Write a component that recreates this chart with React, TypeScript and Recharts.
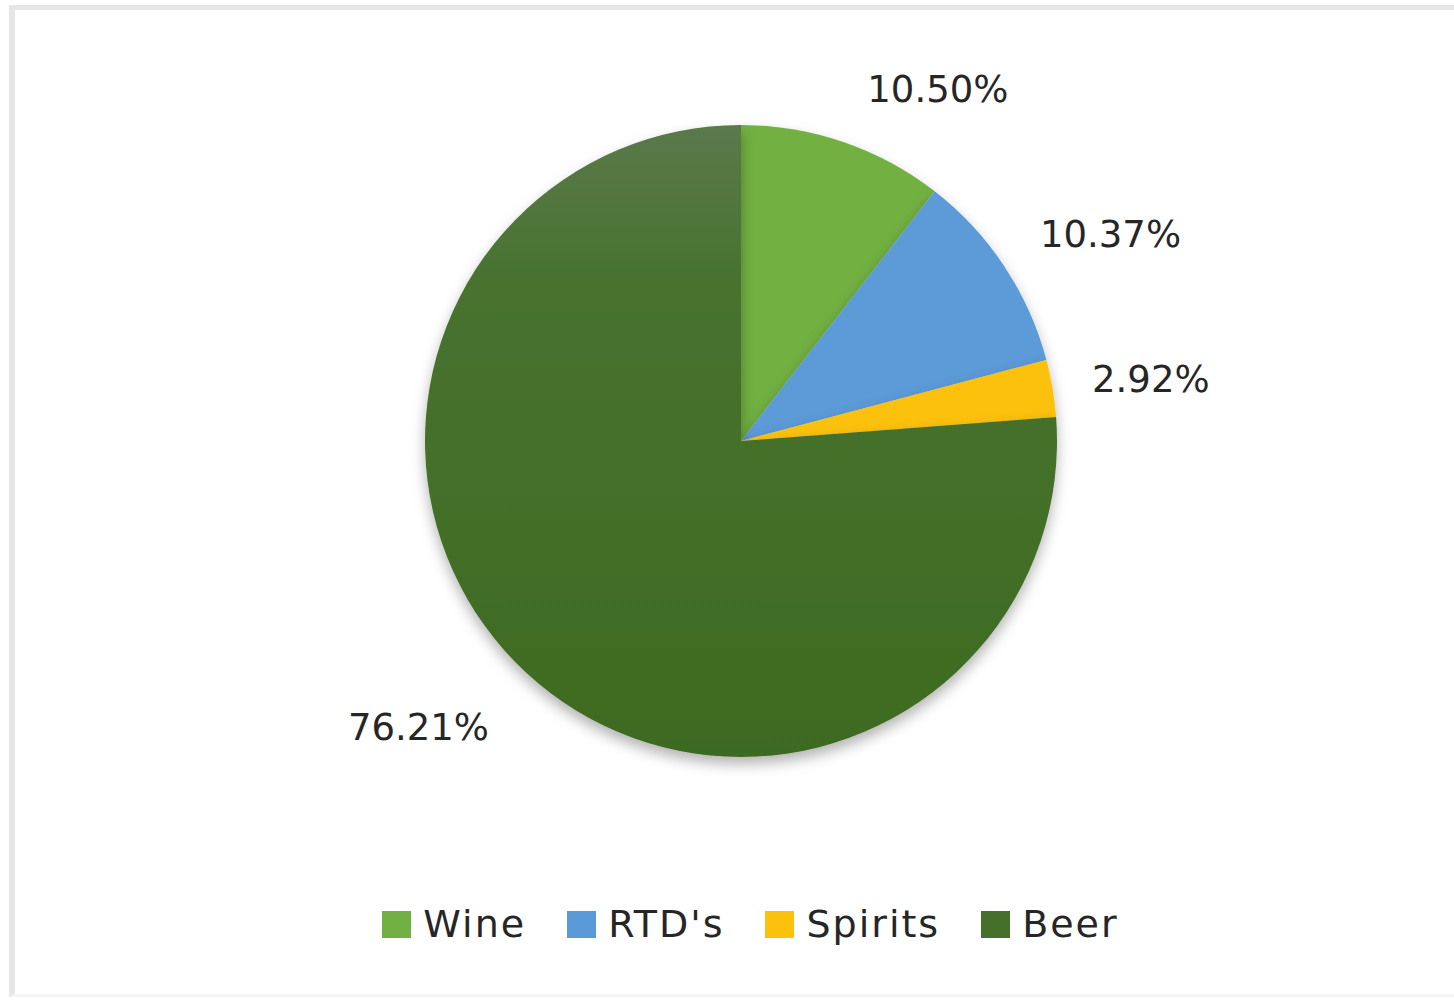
import React from 'react';
import { PieChart, Pie, Cell, Legend } from 'recharts';

// Share of alcohol consumption by beverage type
const categories = ['Wine', "RTD's", 'Spirits', 'Beer'];
const shares = [10.5, 10.37, 2.92, 76.21];
const sliceColors = ['#72b043', '#5b9ad8', '#fcc10d', 'url(#beerFill)'];
const legendColors = ['#72b043', '#5b9ad8', '#fcc10d', '#44702b'];

const data = categories.map((name, i) => ({ name, value: shares[i] }));

const RADIAN = Math.PI / 180;
const FONT = '"DejaVu Sans", sans-serif';

// Excel-style "best fit" labels sitting just outside the pie
const renderLabel = (props: any) => {
  const { cx, cy, midAngle, outerRadius, value } = props;
  const r = outerRadius + 40;
  const x = cx + r * Math.cos(-midAngle * RADIAN);
  const y = cy + r * Math.sin(-midAngle * RADIAN);
  const s = Math.sin(midAngle * RADIAN);
  const right = x > cx;
  let dy = 0;
  if (s > 0.8) dy = -2;
  else if (s > 0.5) dy = 3;
  else if (s < -0.5) dy = 38;
  else dy = 10;
  const dx = right ? 13 * s * s * s : -10;
  return (
    <text
      x={x + dx}
      y={y + dy}
      textAnchor={right ? 'start' : 'end'}
      fill="#262626"
      style={{ fontFamily: FONT, fontSize: 37 }}
    >
      {value.toFixed(2)}%
    </text>
  );
};

// legend keeps the series order, not alphabetical
const renderLegend = () => (
  <div style={styles.legend}>
    {categories.map((name, i) => (
      <div key={name} style={styles.legendItem}>
        <span style={{ ...styles.legendBox, backgroundColor: legendColors[i] }} />
        <span style={styles.legendText}>{name}</span>
      </div>
    ))}
  </div>
);

const App: React.FC = () => {
  return (
    <div style={styles.page}>
      <style>{`.pie-wrap .recharts-pie-sector { filter: url(#pieShadow); }`}</style>
      <div style={styles.frame} />
      <div className="pie-wrap" style={styles.chart}>
        <PieChart width={1454} height={1003}>
          <defs>
            <linearGradient id="beerFill" x1="0" y1="0" x2="0" y2="1">
              <stop offset="0%" stopColor="#5a7a4a" />
              <stop offset="25%" stopColor="#48722f" />
              <stop offset="100%" stopColor="#3e6b21" />
            </linearGradient>
            <filter id="pieShadow" x="-20%" y="-20%" width="140%" height="140%">
              <feDropShadow dx="0" dy="7" stdDeviation="7" floodColor="#000" floodOpacity="0.3" />
            </filter>
          </defs>
          <Pie
            data={data}
            dataKey="value"
            nameKey="name"
            cx={736}
            cy={436}
            outerRadius={316}
            startAngle={90}
            endAngle={-270}
            stroke="none"
            label={renderLabel}
            labelLine={false}
            isAnimationActive={false}
          >
            {data.map((d, i) => (
              <Cell key={d.name} fill={sliceColors[i]} />
            ))}
          </Pie>
          <Legend
            content={renderLegend}
            wrapperStyle={{ top: 902, left: 0, width: 1454 }}
          />
        </PieChart>
      </div>
    </div>
  );
};

const styles: Record<string, React.CSSProperties> = {
  page: {
    position: 'absolute',
    left: 0,
    top: 0,
    width: 1454,
    height: 1003,
    overflow: 'hidden',
    backgroundColor: '#ffffff',
  },
  frame: {
    position: 'absolute',
    left: 9,
    top: 5,
    width: 1460,
    height: 992,
    borderTop: '5px solid #e6e6e6',
    borderLeft: '6px solid #e6e6e6',
    borderBottom: '3px solid #f6f4f5',
    boxSizing: 'border-box',
  },
  chart: {
    position: 'absolute',
    left: 0,
    top: 0,
  },
  legend: {
    display: 'flex',
    justifyContent: 'center',
    alignItems: 'center',
    gap: '41px',
    paddingLeft: 47,
  },
  legendItem: {
    display: 'flex',
    alignItems: 'center',
    gap: '12px',
  },
  legendBox: {
    display: 'inline-block',
    width: 29,
    height: 27,
  },
  legendText: {
    fontFamily: FONT,
    fontSize: 38,
    letterSpacing: 2,
    color: '#262626',
  },
};

export default App;
